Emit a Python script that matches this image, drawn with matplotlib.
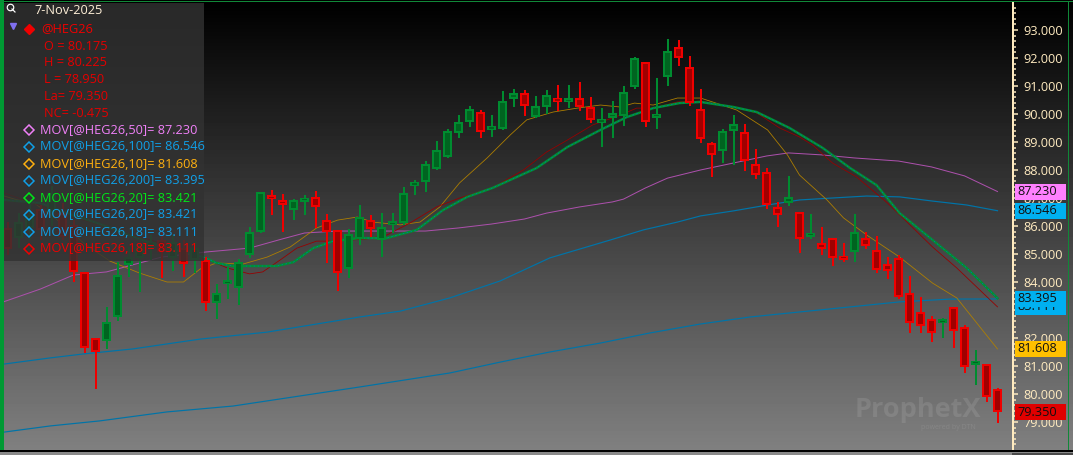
#!/usr/bin/env python3
# -*- coding: utf-8 -*-
"""plot.py  --  @HEG26 daily candles with moving averages, dark trading-terminal look."""
import numpy as np
import matplotlib
matplotlib.use('Agg')
import matplotlib.pyplot as plt
from matplotlib.patches import Rectangle

plt.rcParams['font.family'] = ['Open Sans', 'DejaVu Sans']

W, H = 1073, 455

# ── Candles ──────────────────────────────────────────────────────────────────
opens = [85.93, 85.57, 85.93, 86.61, 86.50, 86.46, 86.04, 84.36, 82.00, 81.89,
         82.75, 84.61, 84.86, 85.32, 85.50, 84.86, 85.21, 84.79, 84.79, 83.25,
         83.93, 83.79, 84.96, 85.79, 87.11, 86.93, 86.57, 86.89, 87.04, 86.21,
         85.86, 84.46, 85.54, 86.21, 85.50, 86.07, 86.11, 87.43, 87.57, 88.04,
         88.46, 89.32, 89.71, 90.07, 89.43, 89.46, 90.54, 90.75, 89.89, 90.25,
         90.57, 90.43, 90.57, 90.25, 89.71, 89.86, 89.93, 90.96, 91.86, 89.86,
         91.32, 92.39, 91.68, 90.18, 88.96, 88.68, 89.39, 89.36, 88.21, 87.93,
         86.68, 86.82, 86.50, 85.61, 85.39, 85.57, 84.93, 85.07, 85.57, 85.14,
         84.64, 84.86, 83.61, 82.93, 82.68, 82.57, 83.11, 82.39, 81.04, 81.07,
         80.175]
highs = [86.14, 86.46, 86.82, 86.75, 87.43, 86.82, 86.21, 84.36, 82.00, 83.11,
         84.71, 85.25, 85.32, 85.68, 85.79, 85.68, 85.50, 85.43, 84.89, 83.93,
         84.54, 84.82, 85.96, 87.21, 87.29, 87.14, 86.96, 87.11, 87.25, 86.43,
         85.86, 85.89, 86.75, 86.39, 86.46, 86.46, 87.39, 87.64, 88.32, 89.04,
         89.46, 89.96, 90.29, 90.14, 89.96, 90.82, 90.89, 90.86, 90.64, 90.86,
         91.04, 91.04, 91.14, 90.61, 90.21, 90.46, 91.00, 92.04, 91.86, 91.29,
         92.68, 92.64, 92.07, 90.89, 89.00, 89.46, 89.96, 89.64, 88.75, 88.07,
         86.86, 87.79, 86.50, 86.43, 85.96, 85.57, 85.39, 86.43, 85.79, 85.64,
         84.89, 84.96, 84.21, 83.46, 82.79, 82.71, 83.11, 82.46, 81.57, 81.07,
         80.225]
lows = [84.96, 85.21, 85.50, 85.50, 86.00, 85.50, 84.00, 81.46, 80.18, 81.61,
        82.61, 84.18, 83.64, 84.79, 84.14, 84.39, 84.18, 84.32, 82.96, 82.68,
        83.39, 83.18, 84.86, 85.75, 86.39, 85.79, 86.21, 86.39, 85.93, 84.68,
        83.68, 84.14, 85.32, 85.61, 84.89, 85.75, 86.04, 87.11, 87.21, 88.00,
        88.43, 89.14, 89.54, 89.14, 89.18, 89.43, 90.25, 89.93, 89.86, 90.00,
        90.11, 90.21, 90.11, 89.68, 88.82, 89.14, 89.57, 90.89, 89.54, 89.46,
        91.00, 91.71, 90.29, 88.96, 87.75, 88.25, 88.18, 87.96, 87.68, 86.61,
        85.96, 86.71, 85.04, 85.54, 84.96, 84.57, 84.71, 84.71, 85.18, 84.32,
        84.11, 83.39, 82.18, 82.18, 81.86, 82.00, 81.64, 80.75, 80.32, 79.71,
        78.95]
closes = [85.18, 86.14, 86.39, 85.86, 87.18, 85.61, 84.36, 81.64, 81.50, 82.57,
          84.25, 84.89, 85.25, 85.43, 85.07, 85.43, 84.64, 85.21, 83.25, 83.61,
          84.04, 84.71, 85.79, 87.21, 86.96, 86.75, 86.93, 87.00, 86.68, 85.79,
          84.32, 85.71, 86.32, 85.89, 85.96, 86.14, 87.18, 87.57, 88.21, 88.71,
          89.39, 89.71, 90.18, 89.36, 89.57, 90.46, 90.75, 90.29, 90.29, 90.68,
          90.43, 90.54, 90.25, 89.79, 89.79, 90.04, 90.79, 92.00, 89.71, 90.00,
          92.25, 92.00, 90.39, 89.11, 88.54, 89.39, 89.64, 88.32, 87.82, 86.75,
          86.39, 87.04, 85.54, 85.75, 85.18, 84.86, 84.79, 85.79, 85.29, 84.43,
          84.39, 83.46, 82.54, 82.43, 82.18, 82.61, 82.25, 80.96, 81.18, 79.89,
          79.35]

ma50_x = [-0.3, 3, 6, 9, 14, 18, 22, 25, 27, 30, 33, 38, 41, 44, 47, 49, 52, 55,
          56, 58, 60, 63, 66, 69, 71, 74, 77, 81, 84, 87, 90]
ma50 = [83.30, 83.75, 84.25, 84.36, 84.89, 85.07, 85.21, 85.54, 85.75, 85.82,
        85.82, 85.82, 85.93, 86.07, 86.25, 86.46, 86.68, 86.86, 86.96, 87.36,
        87.71, 88.00, 88.25, 88.50, 88.61, 88.54, 88.43, 88.32, 88.11, 87.79,
        87.23]

ma100_x = [-0.3, 3.9, 6.9, 11.4, 17.5, 23.6, 32.0, 35.7, 40.2, 44.8, 49.3, 54.8,
           57.8, 60.9, 63.0, 66.0, 69.1, 72.0, 75.0, 78.1, 81.1, 84.1, 87.2, 90]
ma100 = [81.07, 81.29, 81.43, 81.61, 81.96, 82.21, 82.75, 82.96, 83.43, 84.04,
         84.86, 85.50, 85.86, 86.14, 86.36, 86.54, 86.75, 86.93, 87.00, 87.07,
         87.04, 86.89, 86.75, 86.546]

ma200_x = [-0.3, 3.9, 8.4, 14.5, 20.5, 32.0, 40.2, 44.8, 49.3, 53.9, 58.4, 63.0,
           67.5, 72.0, 76.6, 81.1, 85.7, 90]
ma200 = [78.64, 78.86, 79.04, 79.36, 79.57, 80.25, 80.75, 81.14, 81.50, 81.82,
         82.18, 82.50, 82.75, 82.93, 83.11, 83.29, 83.39, 83.395]

ma10_x = [-0.3, 0.9, 2.3, 5.4, 6.9, 9.3, 12.0, 14.5, 16.0, 17.5, 19.0, 21.4,
          23.6, 25.7, 28.1, 30.0, 31.8, 33.2, 35.7, 37.5, 39.3, 41.1, 43.6,
          45.7, 47.2, 49.6, 51.8, 53.9, 55.7, 57.0, 58.7, 60.9, 63.0, 64.1,
          66.3, 69.1, 70.9, 72.0, 74.5, 76.0, 78.1, 81.1, 84.1, 86.3, 90]
ma10 = [87.07, 86.93, 86.86, 85.96, 85.39, 84.75, 84.32, 84.00, 84.00, 84.46,
        84.68, 84.64, 84.89, 85.25, 85.93, 86.21, 86.32, 86.14, 86.04, 86.14,
        86.68, 87.54, 88.43, 89.25, 89.79, 90.07, 90.21, 90.32, 90.25, 90.39,
        90.32, 90.57, 90.57, 90.43, 90.14, 89.43, 88.54, 87.82, 86.93, 86.29,
        85.68, 84.89, 83.96, 83.43, 81.608]

ma18_x = [-0.3, 5.4, 13.0, 17.8, 20.0, 22.0, 23.2, 24.8, 26.3, 28.1, 29.6, 32.7,
          34.5, 36.6, 39.0, 41.1, 44.1, 46.9, 49.0, 50.9, 53.2, 55.7, 57.2,
          58.7, 60.9, 63.0, 66.0, 68.1, 70.2, 72.0, 73.2, 75.0, 77.2, 80.0,
          84.1, 86.3, 90]
ma18 = [87.18, 86.39, 85.50, 84.86, 84.50, 84.29, 84.36, 84.79, 85.21, 85.46,
        85.46, 85.54, 85.68, 86.11, 86.68, 87.00, 87.36, 88.00, 88.64, 89.07,
        89.61, 89.96, 90.21, 90.21, 90.43, 90.46, 90.25, 90.04, 89.50, 89.18,
        88.89, 88.25, 87.75, 86.82, 85.25, 84.50, 83.111]

ma20_x = [-0.3, 3.0, 5.4, 8.4, 13.0, 17.8, 19.0, 20.5, 24.5, 26.0, 27.8, 29.6,
          32.0, 34.5, 37.2, 39.6, 41.8, 44.1, 48.1, 50.9, 53.9, 56.3, 58.7,
          61.1, 63.0, 66.0, 68.1, 71.1, 74.1, 76.6, 79.0, 81.1, 84.1, 87.2, 90]
ma20 = [86.93, 86.82, 86.46, 86.07, 85.39, 84.89, 84.68, 84.57, 84.57, 84.71,
        85.21, 85.46, 85.57, 85.57, 85.86, 86.57, 87.04, 87.36, 88.07, 88.82,
        89.43, 89.89, 90.21, 90.39, 90.43, 90.25, 90.07, 89.50, 88.79, 88.07,
        87.46, 86.46, 85.50, 84.50, 83.421]

# ── Legend text ──────────────────────────────────────────────────────────────
date_label = '7-Nov-2025'
symbol = '@HEG26'
quote_lines = ['O = 80.175', 'H = 80.225', 'L = 78.950', 'La= 79.350', 'NC= -0.475']
mov_lines = [
    ('MOV[@HEG26,50]= 87.230', '#F080F8'),
    ('MOV[@HEG26,100]= 86.546', '#10A0E8'),
    ('MOV[@HEG26,10]= 81.608', '#FFB010'),
    ('MOV[@HEG26,200]= 83.395', '#10A0E8'),
    ('MOV[@HEG26,20]= 83.421', '#00E818'),
    ('MOV[@HEG26,20]= 83.421', '#10A0E8'),
    ('MOV[@HEG26,18]= 83.111', '#10A0E8'),
    ('MOV[@HEG26,18]= 83.111', '#F00000'),
]
# last-value flags, drawn in this order: (text, price, fill)
flags = [('83.111', 83.111, '#00B0F0'),
         ('87.230', 87.230, '#FF80FF'),
         ('86.546', 86.546, '#00B0F0'),
         ('83.395', 83.395, '#00B0F0'),
         ('81.608', 81.608, '#FFC000'),
         ('79.350', 79.350, '#E00000')]

RED, RED_DK = '#F00000', '#A00000'
GRN, GRN_DK = '#008C30', '#006420'
CREAM = '#FFEBC0'
PX = 72.0 / 100   # one pixel in points

fig = plt.figure(figsize=(W / 100, H / 100), dpi=100, facecolor='#3a3a3a')

# ── Background gradient ──────────────────────────────────────────────────────
bg = fig.add_axes([0, 0, 1, 1], zorder=0)
bg.set_axis_off()
grad = np.clip((np.arange(H) - 4) / (450 - 4), 0, 1)[:, None] * 128
bg.imshow(grad, cmap='gray', vmin=0, vmax=255, aspect='auto', extent=(0, W, H, 0))
bg.set_xlim(0, W)
bg.set_ylim(H, 0)

# ── Price chart: 11 px per bar, 28 px per point ──────────────────────────────
top_px, bot_px, left_px, right_px = 3, 450, 4, 1012.5
ax = fig.add_axes([left_px / W, (H - bot_px) / H, (right_px - left_px) / W,
                   (bot_px - top_px) / H], zorder=1)
ax.patch.set_alpha(0)
ax.set_xlim((left_px - 7.5) / 11, (right_px - 7.5) / 11)
ax.set_ylim(93 - (bot_px - 30) / 28, 93 + (30 - top_px) / 28)

for s in ('top', 'left', 'bottom'):
    ax.spines[s].set_visible(False)
ax.spines['right'].set_color(CREAM)
ax.spines['right'].set_linewidth(2 * PX)
ax.set_xticks([])
ax.yaxis.tick_right()
ax.set_yticks(np.arange(79, 94))
ax.set_yticklabels(['%.3f' % v for v in np.arange(79, 94)])
ax.set_yticks(np.arange(78.2, 94, 0.2), minor=True)
ax.tick_params(axis='y', which='major', length=5 * PX, width=1.5 * PX, color=CREAM,
               labelcolor=CREAM, labelsize=9.2, pad=6 * PX)
ax.tick_params(axis='y', which='minor', length=3 * PX, width=1.5 * PX, color=CREAM)

# moving averages first, candles sit on top of them
ax.plot(ma50_x, ma50, color='#AC50AC', lw=1.0 * PX, zorder=2)
ax.plot(ma100_x, ma100, color='#0074A8', lw=1.2 * PX, zorder=2)
ax.plot(ma200_x, ma200, color='#0074A8', lw=1.2 * PX, zorder=2)
ax.plot(ma10_x, ma10, color='#B08000', lw=0.8 * PX, zorder=2)
ax.plot(ma18_x, ma18, color='#980000', lw=0.8 * PX, zorder=2)
ax.plot(ma20_x, ma20, color='#009030', lw=2.4 * PX, zorder=3)
ax.plot(ma20_x, ma20, color='#0074A8', lw=0.8 * PX, ls=(0, (2, 3)), zorder=3)

bars = np.arange(len(opens))
o, h, l, c = map(np.array, (opens, highs, lows, closes))
up = c >= o
body_lo = np.minimum(o, c)
body_hi = np.maximum(o, c)
edge = 2.3 / 28
min_h = 4 / 28

for mask, col, dark in ((up, GRN, GRN_DK), (~up, RED, RED_DK)):
    ax.vlines(bars[mask], l[mask], h[mask], color=col, lw=2 * PX, zorder=4,
              antialiased=False)
    mid = (body_lo[mask] + body_hi[mask]) / 2
    outer = np.maximum(body_hi[mask] - body_lo[mask], min_h)
    ax.bar(bars[mask], outer, bottom=mid - outer / 2, width=9 / 11, color=col,
           zorder=5, antialiased=False)
    inner = np.maximum(outer - 2 * edge, 1 / 28)
    ax.bar(bars[mask], inner, bottom=mid - inner / 2, width=4.4 / 11, color=dark,
           zorder=6, antialiased=False)

# ── Overlay in pixel coordinates: legend panel, frame, flags ─────────────────
ov = fig.add_axes([0, 0, 1, 1], zorder=2)
ov.set_axis_off()
ov.patch.set_alpha(0)
ov.set_xlim(0, W)
ov.set_ylim(H, 0)

# watermark
ov.text(918, 410, 'ProphetX', color='white', alpha=0.10, fontsize=19.5, fontweight='bold',
        ha='center', va='center')
ov.text(948, 427.5, 'powered by DTN', color='white', alpha=0.10, fontsize=5,
        ha='center', va='center')

# legend panel
ov.add_patch(Rectangle((4, 3), 200, 258, facecolor='#323232', alpha=0.82, lw=0, zorder=2))

# frame strips
ov.add_patch(Rectangle((0, 0), 4, 450.5, facecolor='#009933', lw=0, zorder=3))
ov.add_patch(Rectangle((0, 1), W, 1.2, facecolor='#108838', lw=0, zorder=3))
ov.add_patch(Rectangle((1068.4, 1), 1, 449, facecolor='#108838', lw=0, zorder=3))
ov.add_patch(Rectangle((0, 450), W, 1.5, facecolor='black', lw=0, zorder=3))
ov.add_patch(Rectangle((0, 451.5), W, H - 451.5, facecolor='#8a8a8a', lw=0, zorder=3))
ov.add_patch(Rectangle((1012, 452.5), W - 1012, H - 452.5, facecolor='#4a4a4a', lw=0, zorder=3))

# magnifier icon and collapse arrow
ov.plot([10], [7], 'o', ms=5 * PX * 1.3, mfc='none', mec='white', mew=1 * PX * 1.2, zorder=4)
ov.plot([12, 15], [9, 12], color='white', lw=1.2 * PX, zorder=4)
ov.plot([13], [26], 'v', ms=6 * PX, color='#8070F0', zorder=4)

ov.text(34, 11, date_label, color='#FFF0D8', fontsize=9.2, va='center', zorder=4)
ov.plot([29], [28.5], 'D', ms=7.5 * PX, color='#F00000', zorder=4)
ov.text(41, 28.5, symbol, color='#F00000', fontsize=9.2, va='center', zorder=4)
for k, txt in enumerate(quote_lines):
    ov.text(44, 46 + k * 16.9, txt, color='#E40000', fontsize=9.2, va='center', zorder=4)
for k, (txt, col) in enumerate(mov_lines):
    y = 130 + k * 17
    ov.plot([29], [y], 'D', ms=6.5 * PX, mfc='none', mec=col, mew=1.5 * PX, zorder=4)
    ov.text(40, y, txt, color=col, fontsize=9.2, va='center', zorder=4)

# last-value flags on the price axis
for k, (txt, price, col) in enumerate(flags):
    yc = H - ax.transData.transform((0, price))[1]
    ov.add_patch(Rectangle((1015, yc - 8), 51, 16, facecolor=col, lw=0, zorder=5 + k * 0.1))
    ov.text(1037.5, yc, txt, color='#101010', fontsize=9.2, ha='center', va='center',
            zorder=5.05 + k * 0.1)

fig.savefig('out.png', dpi=100, facecolor=fig.get_facecolor())
